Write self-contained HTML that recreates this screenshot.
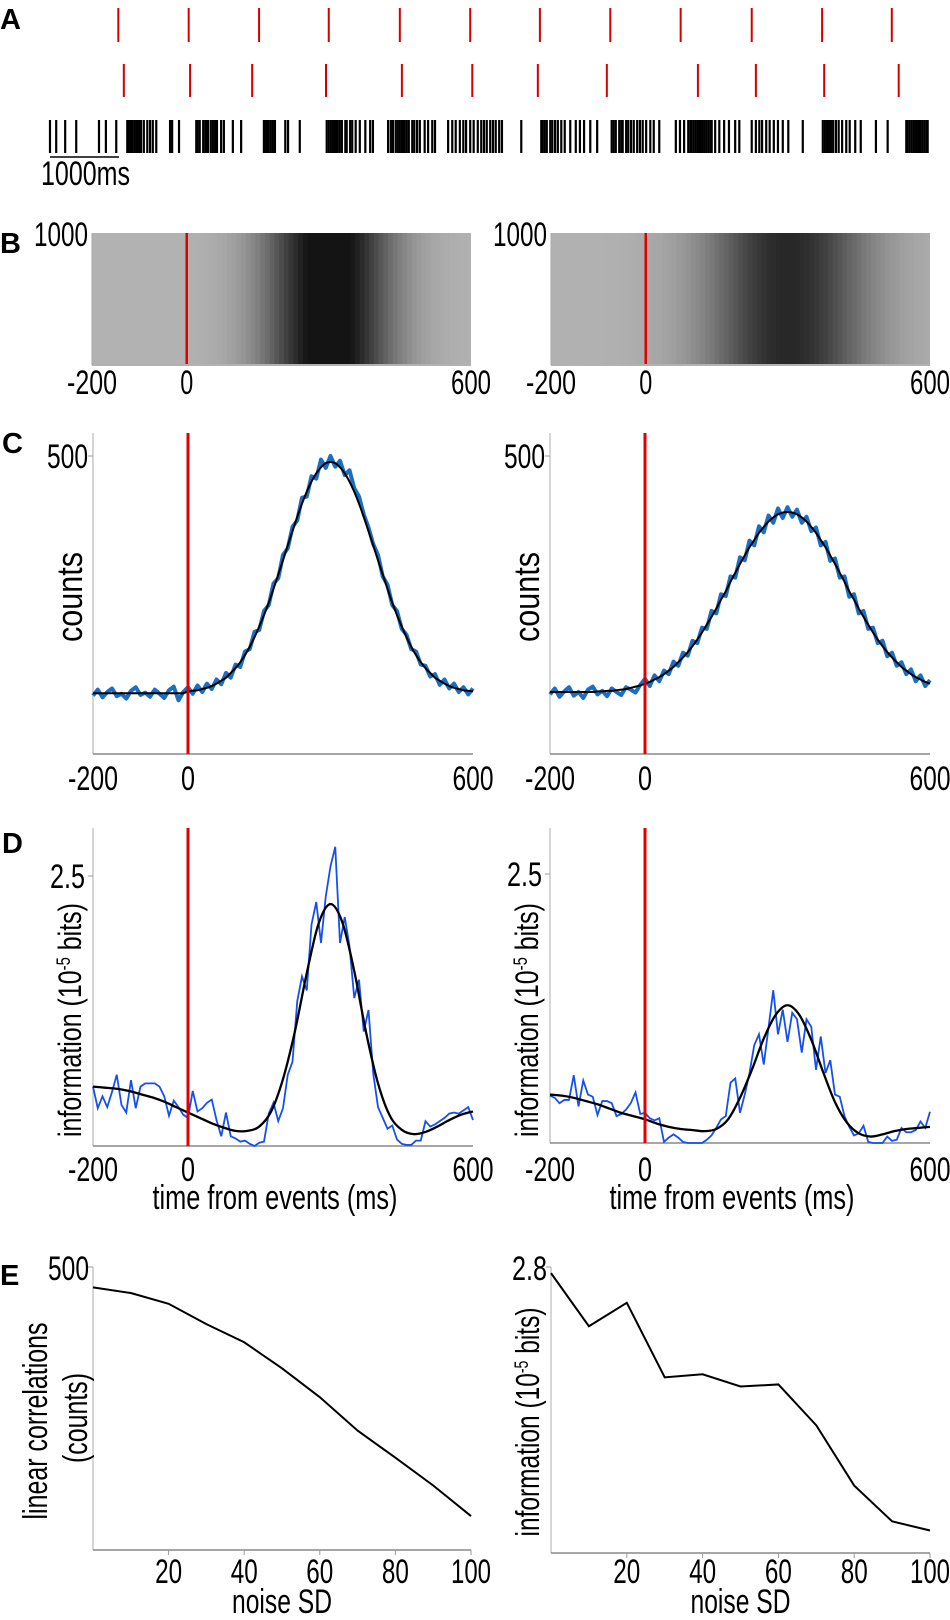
<!DOCTYPE html>
<html><head><meta charset="utf-8">
<style>
html,body{margin:0;padding:0;background:#fff;}
svg{display:block;font-family:"Liberation Sans Narrow","Liberation Sans",Arial,sans-serif;}
.lab{font-family:"Liberation Sans",Arial,sans-serif;font-weight:bold;font-size:29px;}
.yl{font-family:"Liberation Sans",Arial,sans-serif;}
</style></head>
<body>
<svg id="fig" width="950" height="1620" viewBox="0 0 950 1620" xmlns="http://www.w3.org/2000/svg">
<text class="lab" x="0" y="29">A</text>
<text class="lab" x="0" y="253">B</text>
<text class="lab" x="2" y="453">C</text>
<text class="lab" x="2" y="853">D</text>
<text class="lab" x="0" y="1285">E</text>
<g id="gA"></g>
<g id="gB"></g>
<g id="gC"></g>
<g id="gD"></g>
<g id="gE"></g>
</svg>
<script>
// ---- Panel A data (seconds) ----
const eventsRow1 = [0.99,2.01,3.03,4.04,5.07,6.09,7.10,8.12,9.14,10.17,11.19,12.20];
const eventsRow2 = [1.07,2.03,2.93,4.00,5.10,6.12,7.07,8.07,9.39,10.23,11.22,12.30];
const spikeTimes = [0,0.09,0.22,0.38,0.71,0.81,0.96,
1.12,1.14,1.16,1.19,1.22,1.23,1.26,1.29,1.32,1.36,1.41,1.45,1.49,1.54,
1.74,1.77,1.87,
2.12,2.14,2.17,2.22,2.25,2.26,2.29,2.33,2.36,2.39,2.42,2.48,2.52,2.65,2.77,
3.10,3.13,3.16,3.17,3.20,3.23,3.26,3.41,3.45,3.62,
4.01,4.04,4.07,4.10,4.13,4.16,4.17,4.20,4.23,4.28,4.30,4.35,4.38,4.43,4.49,4.57,4.64,4.68,
4.90,4.94,4.97,5.01,5.04,5.07,5.10,5.12,5.14,5.17,5.20,5.25,5.28,5.32,5.36,5.43,5.48,5.54,5.58,
5.77,5.83,5.88,5.94,5.99,6.03,6.09,6.14,6.20,6.25,6.29,6.33,6.38,6.42,6.46,6.51,6.55,6.83,
7.12,7.14,7.17,7.20,7.25,7.28,7.32,7.36,7.41,7.46,7.54,7.62,7.68,7.74,7.83,7.93,
8.14,8.17,8.20,8.25,8.28,8.30,8.35,8.38,8.42,8.46,8.51,8.55,8.59,8.64,8.70,8.75,8.83,
9.07,9.13,9.19,9.25,9.28,9.30,9.33,9.36,9.39,9.42,9.45,9.48,9.51,9.54,9.57,9.59,9.64,9.70,9.77,9.84,9.93,9.99,
10.17,10.23,10.28,10.32,10.38,10.43,10.49,10.55,10.62,10.70,10.91,
11.20,11.23,11.26,11.29,11.32,11.35,11.39,11.43,11.48,11.54,11.59,11.67,11.75,11.97,12.14,
12.41,12.43,12.46,12.49,12.52,12.55,12.58,12.61,12.64,12.67,12.70,12.72];

// ---- Panel C data (counts, t=-200..600 step 10) ----
const countsLeft = [98,108,95,104,110,97,101,93,106,112,99,103,96,108,101,94,107,113,90,104,
112,101,115,104,118,109,125,117,136,128,150,146,172,176,205,208,240,250,286,295,334,345,381,392,430,432,466,462,494,480,500,
482,492,468,476,446,432,402,380,352,334,298,284,250,240,210,200,176,172,150,148,130,134,116,125,110,118,104,112,100,110];
const fitCountsLeft = [102,102,102,102,102,102,102,102,102,102,102,102,102,102,102,102,102,102,102,102,
105,106,107,109,111,114,118,123,128,136,144,154,166,180,196,214,233,254,277,301,325,350,374,398,420,440,457,471,481,488,490,
488,481,471,457,440,420,398,374,350,325,301,277,254,233,214,196,180,166,154,144,136,128,123,118,114,111,109,107,106,105];
const countsRight = [100,110,96,105,112,98,104,94,108,113,100,106,97,110,104,99,112,108,103,116,
126,114,132,122,140,134,155,148,170,165,190,186,212,210,240,236,268,265,298,296,330,325,358,350,382,372,400,388,412,396,414,
398,410,388,398,374,380,350,356,324,328,296,298,264,268,236,240,210,212,186,190,164,170,148,154,134,142,122,132,114,124];
const fitCountsRight = [104,104,104,104,104,104,104,104,104,104,105,105,106,106,107,108,109,111,113,115,
118,121,125,129,134,140,146,154,162,171,181,192,204,217,230,244,259,273,289,304,319,333,347,359,371,381,390,397,402,405,406,
405,402,397,390,381,371,359,347,333,319,304,289,273,259,244,230,217,204,192,181,171,162,154,146,140,134,129,125,121,118];

// ---- Panel D data (10^-5 bits) ----
const infoLeft = [.55,.35,.46,.36,.50,.66,.38,.31,.61,.35,.55,.58,.58,.58,.55,.46,.28,.42,.36,.29,
.26,.51,.32,.35,.40,.43,.24,.09,.31,.09,.07,.04,.05,.02,0,.03,.04,.30,.40,.23,
.35,.66,.78,1.34,1.57,1.44,2.05,2.26,1.88,2.31,2.59,2.77,1.88,2.12,1.85,1.37,1.54,1.06,1.26,.67,
.36,.26,.16,.19,.06,.02,.01,.01,.05,.05,.23,.18,.20,.23,.26,.30,.31,.30,.33,.36,.24];
const infoRight = [.44,.42,.37,.40,.40,.63,.34,.58,.45,.43,.26,.39,.39,.37,.25,.27,.31,.37,.47,.27,
.28,.23,.21,.23,.01,.05,.08,.05,.01,0,0,0,0,.03,.07,.14,.22,.25,.56,.60,
.28,.45,.65,.91,1.01,.73,1.07,1.42,1.01,1.24,.94,1.21,1.15,.84,1.15,1.08,.68,.99,.65,.77,
.45,.43,.25,.15,.07,.09,.16,.01,0,0,0,.06,.02,.03,.14,.10,.10,.12,.20,.14,.29];
const fitInfoLeft = [.55,.54,.53,.51,.48,.45,.41,.36,.31,.26,.21,.17,.14,.14,.18,.32,.62,1.06,1.60,2.06,2.24,2.07,1.62,1.05,.58,.28,.15,.11,.13,.18,.24,.29,.32];
const fitInfoRight = [.45,.44,.42,.39,.36,.32,.28,.25,.22,.18,.15,.13,.12,.11,.13,.22,.42,.68,.97,1.19,1.28,1.19,.96,.66,.38,.19,.09,.06,.08,.11,.13,.14,.15];

// ---- Panel E data ----
const noiseSD = [0,10,20,30,40,50,60,70,80,90,100];
const linCorr = [464,454,435,399,367,321,270,211,163,114,60];
const infoNoise = [2.74,2.22,2.45,1.72,1.75,1.63,1.65,1.25,0.66,0.31,0.22];
const timeTicks = [-200,0,600];
const noiseTicks = [20,40,60,80,100];

const NS='http://www.w3.org/2000/svg';
function mk(parent,tag,attrs,text){const e=document.createElementNS(NS,tag);for(const k in attrs)e.setAttribute(k,attrs[k]);if(text!==undefined)e.textContent=text;parent.appendChild(e);return e;}
function lin(d0,d1,r0,r1){return v=>r0+(v-d0)/(d1-d0)*(r1-r0);}
function smoothPath(pts){let d='M'+pts[0][0].toFixed(2)+','+pts[0][1].toFixed(2);
 for(let i=0;i<pts.length-1;i++){const p0=pts[i-1]||pts[i],p1=pts[i],p2=pts[i+1],p3=pts[i+2]||p2;
  const c1=[p1[0]+(p2[0]-p0[0])/6,p1[1]+(p2[1]-p0[1])/6],c2=[p2[0]-(p3[0]-p1[0])/6,p2[1]-(p3[1]-p1[1])/6];
  d+=' C'+c1[0].toFixed(2)+','+c1[1].toFixed(2)+' '+c2[0].toFixed(2)+','+c2[1].toFixed(2)+' '+p2[0].toFixed(2)+','+p2[1].toFixed(2);}
 return d;}
function polyPath(pts){return 'M'+pts.map(p=>p[0].toFixed(2)+','+p[1].toFixed(2)).join(' L');}
function tickText(g,x,y,s,anchor,len,name){const t=mk(g,'text',{x:x,y:y,'font-size':34,'text-anchor':anchor,textLength:len,lengthAdjust:'spacingAndGlyphs',fill:'#000'},s);
 
 return t;}

// ---- Panel A ----
(function(){
 const g=document.getElementById('gA');
 const x=lin(0,1,50,119);
 eventsRow1.forEach((t,i)=>{const l=mk(g,'line',{x1:x(t),x2:x(t),y1:8,y2:42,stroke:'#d40000','stroke-width':2});
  
  });
 eventsRow2.forEach((t,i)=>{const l=mk(g,'line',{x1:x(t),x2:x(t),y1:64,y2:97,stroke:'#d40000','stroke-width':2});
  
  });
 spikeTimes.forEach(t=>{const l=mk(g,'line',{x1:x(t),x2:x(t),y1:120,y2:153,stroke:'#000','stroke-width':2.2});
  
  });
 const sb=mk(g,'line',{x1:x(0),x2:x(1),y1:157,y2:157,stroke:'#000','stroke-width':1.5});
 
 
 tickText(g,41,185,'1000ms','start',89,'scale-bar-label');
})();

// ---- Panel B (raster density drawn from PSTH counts) ----
function raster(g,x0,x1,counts,side){
 const y0=233,y1=364;const x=lin(-200,600,x0,x1);
 counts.forEach((c,i)=>{const t=-200+i*10;const xa=x(Math.max(-200,t-5)),xb=x(Math.min(600,t+5));
  const v=Math.round(255*(1-Math.min(0.92,0.12+c/560)));
  const r=mk(g,'rect',{x:xa,y:y0,width:xb-xa+(t<600?1:0),height:y1-y0,fill:'rgb('+v+','+v+','+v+')'});
  
  });
 mk(g,'line',{x1:x0,x2:x0,y1:y0,y2:y1+1,stroke:'#aaa','stroke-width':1});
 mk(g,'line',{x1:x0,x2:x1,y1:y1+1,y2:y1+1,stroke:'#999','stroke-width':1.5});
 const rl=mk(g,'line',{x1:x(0),x2:x(0),y1:y0,y2:y1,stroke:'#e00000','stroke-width':2.5});
 
 
 tickText(g,x0-4,246,'1000','end',54,'y-tick-1000');
 tickText(g,x(-200),394,'-200','middle',50,'x-tick--200');
 tickText(g,x(0),394,'0','middle',13,'x-tick-0');
 tickText(g,x(600),394,'600','middle',40,'x-tick-600');
}
raster(document.getElementById('gB'),92,471,fitCountsLeft,'left');
raster(document.getElementById('gB'),551,930,fitCountsRight,'right');

// ---- Generic axes ----
function axesFrame(g,x0,x1,yTop,yBot){
 mk(g,'line',{x1:x0,x2:x0,y1:yTop,y2:yBot,stroke:'#bbb','stroke-width':1.2});
 mk(g,'line',{x1:x0,x2:x1,y1:yBot,y2:yBot,stroke:'#888','stroke-width':1.5});
}
function yLabel(g,x,yc,len,parts,name,fs){
 const t=mk(g,'text',{x:0,y:0,'font-size':fs||33,'text-anchor':'middle',class:'yl',transform:'translate('+x+','+yc+') rotate(-90)',textLength:len,lengthAdjust:'spacingAndGlyphs'});
 
 
 if(typeof parts==='string'){t.textContent=parts;}else{
  mk(t,'tspan',{},'information (10');mk(t,'tspan',{dy:-11,'font-size':19},'-5');mk(t,'tspan',{dy:11},' bits)');}
}

// ---- Panel C ----
function panelC(g,x0,x1,counts,fit,side){
 const yTop=433,yBot=754;const x=lin(-200,600,x0,x1);const y=lin(0,500,yBot,456);
 axesFrame(g,x0,x1,yTop,yBot);
 mk(g,'line',{x1:x0-5,x2:x0,y1:y(500),y2:y(500),stroke:'#999'});
 const b=mk(g,'path',{d:polyPath(counts.map((v,i)=>[x(-200+i*10),y(v)])),fill:'none',stroke:'#1a6fc4','stroke-width':4,'stroke-linejoin':'round'});
 
 
 const f=mk(g,'path',{d:smoothPath(fit.map((v,i)=>[x(-200+i*10),y(v)])),fill:'none',stroke:'#000','stroke-width':2});
 
 
 const rl=mk(g,'line',{x1:x(0),x2:x(0),y1:yTop,y2:yBot,stroke:'#e00000','stroke-width':3});
 
 
 tickText(g,x0-5,468,'500','end',41,'y-tick-500');
 timeTicks.forEach(t=>tickText(g,x(t),790,String(t),'middle',t===0?14:(t<0?50:41),'x-tick'));
 yLabel(g,x0-11,597,90,'counts','y-axis-title-counts',36);
}
panelC(document.getElementById('gC'),93,473,countsLeft,fitCountsLeft,'left');
panelC(document.getElementById('gC'),550,930,countsRight,fitCountsRight,'right');

// ---- Panel D ----
function panelD(g,x0,x1,yBot,y25,info,fit,side){
 const yTop=828;const x=lin(-200,600,x0,x1);const y=lin(0,2.5,yBot,y25);
 axesFrame(g,x0,x1,yTop,yBot);
 mk(g,'line',{x1:x0-5,x2:x0,y1:y(2.5),y2:y(2.5),stroke:'#999'});
 const b=mk(g,'path',{d:polyPath(info.map((v,i)=>[x(-200+i*10),y(v)])),fill:'none',stroke:'#1450f0','stroke-width':1.8});
 
 
 const f=mk(g,'path',{d:smoothPath(fit.map((v,i)=>[x(-200+i*25),y(v)])),fill:'none',stroke:'#000','stroke-width':2.3});
 
 
 const rl=mk(g,'line',{x1:x(0),x2:x(0),y1:yTop,y2:yBot,stroke:'#e00000','stroke-width':3});
 
 
 tickText(g,x0-8,y(2.5)+12,'2.5','end',35,'y-tick-2.5');
 timeTicks.forEach(t=>tickText(g,x(t),1181,String(t),'middle',t===0?14:(t<0?50:41),'x-tick'));
 yLabel(g,x0-12,1020,234,null,'y-axis-title-information',32);
 tickText(g,(x0+x1)/2-8,1209,'time from events (ms)','middle',245,'x-axis-title-time');
}
panelD(document.getElementById('gD'),93,473,1146,876,infoLeft,fitInfoLeft,'left');
panelD(document.getElementById('gD'),550,930,1143,874,infoRight,fitInfoRight,'right');

// ---- Panel E ----
function panelE(g,x0,x1,yTop,yBot,vals,vmax,side){
 const x=lin(0,100,x0,x1);const y=lin(0,vmax,yBot,yTop);
 axesFrame(g,x0,x1,yTop,yBot);
 mk(g,'line',{x1:x0-5,x2:x0,y1:yTop,y2:yTop,stroke:'#999'});
 noiseTicks.forEach(t=>{mk(g,'line',{x1:x(t),x2:x(t),y1:yBot,y2:yBot+5,stroke:'#999'});
  tickText(g,x(t),1583,String(t),'middle',t===100?40:27,'x-tick');});
 const p=mk(g,'path',{d:polyPath(vals.map((v,i)=>[x(noiseSD[i]),y(v)])),fill:'none',stroke:'#000','stroke-width':2});
 
 
 tickText(g,(x0+x1)/2,1613,'noise SD','middle',100,'x-axis-title-noise');
}
const gE=document.getElementById('gE');
panelE(gE,93,471,1267,1550,linCorr,500,'left');
panelE(gE,551,930,1267,1553,infoNoise,2.8,'right');
tickText(gE,89,1280,'500','end',41,'y-tick-500');
tickText(gE,547,1280,'2.8','end',35,'y-tick-2.8');
yLabel(gE,47,1421,197,'linear correlations','y-axis-title-linear',34);
yLabel(gE,87,1418,90,'(counts)','y-axis-title-counts',34);
yLabel(gE,539,1422,229,null,'y-axis-title-information',33);
</script>
</body></html>
